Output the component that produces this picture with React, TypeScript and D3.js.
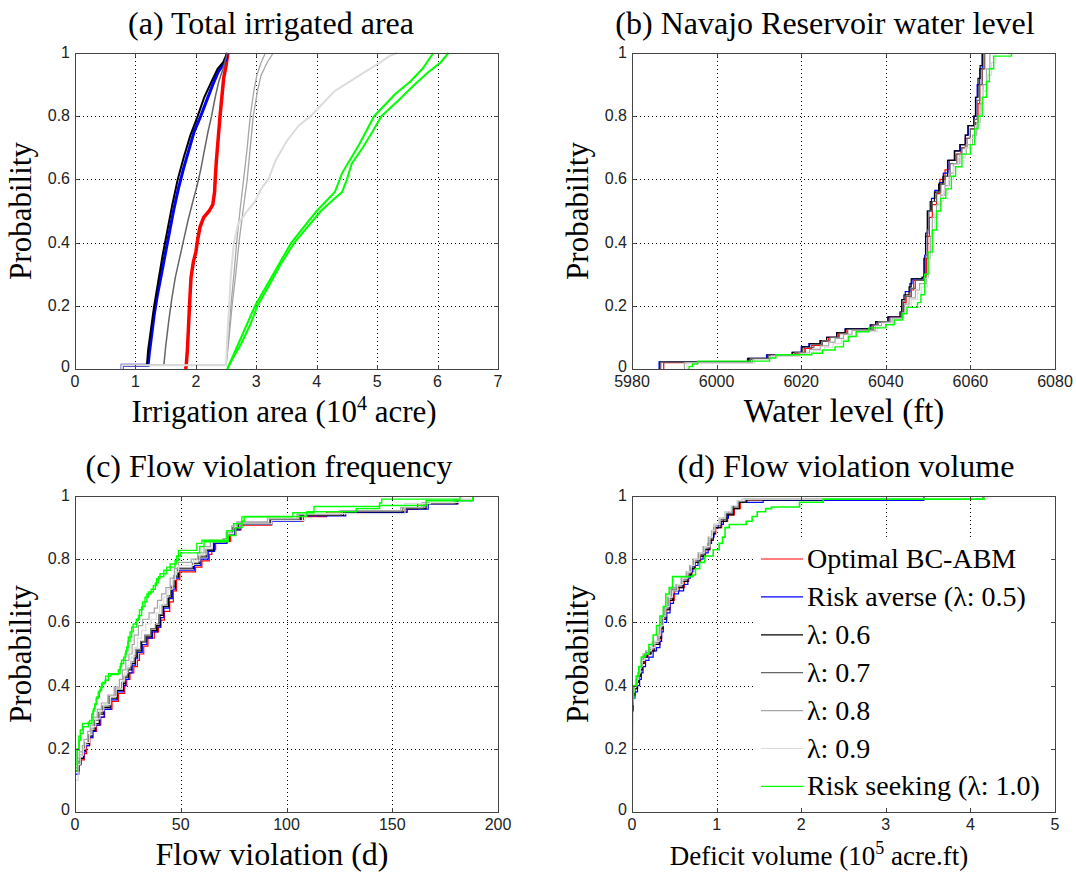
import * as d3 from "d3";
import React, { useEffect, useRef } from "react";

type Pt = [number, number];

const seriesNames = [
  "Optimal BC-ABM",
  "Risk averse (λ: 0.5)",
  "λ: 0.6",
  "λ: 0.7",
  "λ: 0.8",
  "λ: 0.9",
  "Risk seeking (λ: 1.0)",
];
const seriesColors = ["#ff0000", "#0000ff", "#000000", "#666666", "#a6a6a6", "#dcdcdc", "#00ff00"];

const probTicks = [0, 0.2, 0.4, 0.6, 0.8, 1];
const aTicks = [0, 1, 2, 3, 4, 5, 6, 7];
const bTicks = [5980, 6000, 6020, 6040, 6060, 6080];
const cTicks = [0, 50, 100, 150, 200];
const dTicks = [0, 1, 2, 3, 4, 5];

// (a) total irrigated area, 10^4 acre
const aOptimal: Pt[] = [[1.83,0],[1.84,0.01],[1.86,0.06],[1.88,0.14],[1.9,0.22],[1.92,0.29],[1.96,0.34],[2.0,0.37],[2.03,0.41],[2.07,0.45],[2.13,0.48],[2.22,0.5],[2.28,0.52],[2.31,0.56],[2.32,0.6],[2.34,0.66],[2.37,0.73],[2.4,0.8],[2.43,0.86],[2.46,0.92],[2.5,0.96],[2.53,1.0]];
const aAverse: Pt[] = [[0.78,0],[0.78,0.012],[1.21,0.012],[1.23,0.05],[1.27,0.11],[1.31,0.17],[1.36,0.23],[1.42,0.29],[1.49,0.36],[1.56,0.43],[1.63,0.5],[1.71,0.57],[1.79,0.63],[1.88,0.69],[1.97,0.75],[2.08,0.8],[2.18,0.85],[2.28,0.9],[2.37,0.94],[2.44,0.96],[2.5,0.98],[2.52,1.0]];
const a06: Pt[] = [[0.78,0],[0.78,0.012],[1.19,0.012],[1.21,0.06],[1.26,0.13],[1.31,0.2],[1.38,0.28],[1.45,0.36],[1.53,0.44],[1.61,0.52],[1.7,0.6],[1.8,0.67],[1.91,0.74],[2.03,0.8],[2.14,0.86],[2.26,0.91],[2.36,0.95],[2.45,0.97],[2.52,1.0]];
const a07: Pt[] = [[0.78,0],[0.78,0.012],[1.47,0.012],[1.5,0.07],[1.55,0.15],[1.6,0.22],[1.66,0.29],[1.73,0.35],[1.8,0.41],[1.87,0.47],[1.95,0.53],[2.02,0.58],[2.08,0.63],[2.14,0.69],[2.2,0.75],[2.26,0.8],[2.32,0.86],[2.38,0.91],[2.45,0.95],[2.52,1.0]];
const a08: Pt[] = [[0.78,0],[0.78,0.012],[2.5,0.012],[2.52,0.05],[2.55,0.12],[2.58,0.2],[2.63,0.3],[2.68,0.41],[2.73,0.5],[2.79,0.6],[2.85,0.7],[2.9,0.8],[2.96,0.88],[3.01,0.93],[3.08,0.97],[3.15,1.0]];
const a08b: Pt[] = [[2.5,0.012],[2.54,0.08],[2.6,0.2],[2.66,0.3],[2.72,0.41],[2.78,0.5],[2.85,0.6],[2.9,0.7],[2.95,0.8],[3.02,0.88],[3.08,0.93],[3.18,0.97],[3.28,1.0]];
const a09: Pt[] = [[0.78,0],[0.78,0.012],[2.5,0.012],[2.52,0.1],[2.55,0.2],[2.58,0.3],[2.63,0.4],[2.7,0.46],[2.85,0.5],[2.98,0.53],[3.08,0.57],[3.2,0.6],[3.32,0.66],[3.5,0.72],[3.7,0.77],[3.9,0.8],[4.1,0.84],[4.3,0.88],[4.55,0.91],[4.8,0.94],[5.05,0.97],[5.2,0.99],[5.33,1.0]];
const aSeeking: Pt[] = [[2.52,0],[2.6,0.03],[2.75,0.08],[2.9,0.14],[3.02,0.2],[3.2,0.26],[3.4,0.33],[3.63,0.4],[3.85,0.45],[4.07,0.5],[4.3,0.54],[4.42,0.56],[4.5,0.6],[4.58,0.65],[4.76,0.7],[4.92,0.75],[5.07,0.8],[5.35,0.85],[5.62,0.9],[5.85,0.94],[6.05,0.97],[6.18,1.0]];
const aSeeking2: Pt[] = [[2.52,0],[2.98,0.2],[3.58,0.4],[4.0,0.5],[4.3,0.56],[4.42,0.62],[4.7,0.71],[4.95,0.8],[5.3,0.87],[5.55,0.91],[5.75,0.95],[5.93,1.0]];

// (b) Navajo Reservoir water level, ft
const bOptimal: Pt[] = [[5987.5,0],[5987.5,0.02],[6007.8,0.03],[6012.3,0.043],[6018.5,0.05],[6020.7,0.065],[6022.5,0.075],[6025,0.088],[6026.5,0.1],[6028.8,0.112],[6030.8,0.125],[6037,0.14],[6038,0.15],[6040.8,0.165],[6043.6,0.18],[6044.2,0.21],[6044.8,0.23],[6046,0.25],[6046.6,0.28],[6049,0.29],[6049.6,0.35],[6049.9,0.42],[6050.3,0.48],[6051,0.52],[6052,0.555],[6052.8,0.6],[6054,0.63],[6055,0.66],[6056.6,0.68],[6057.8,0.7],[6058.8,0.73],[6060,0.76],[6061.2,0.78],[6061.8,0.84],[6062.2,0.9],[6062.8,0.95],[6063.2,1.0]];
const bAverse: Pt[] = [[5986.4,0],[5986.4,0.023],[6007.3,0.034],[6011.8,0.045],[6017.8,0.053],[6020,0.07],[6021.8,0.08],[6024.4,0.09],[6026,0.1],[6028.4,0.115],[6030.4,0.127],[6036.3,0.14],[6037.6,0.15],[6040.5,0.164],[6043.4,0.18],[6043.8,0.22],[6044.6,0.245],[6045.7,0.27],[6046.2,0.285],[6048.6,0.29],[6049.2,0.36],[6049.4,0.43],[6049.9,0.5],[6050.8,0.54],[6051.6,0.565],[6052.7,0.59],[6053.6,0.62],[6054.7,0.66],[6056.3,0.69],[6057.6,0.71],[6058.8,0.74],[6059.5,0.77],[6060.9,0.8],[6061.3,0.86],[6061.6,0.9],[6062.2,0.95],[6062.8,1.0]];
const b06: Pt[] = [[5986.6,0],[5986.6,0.023],[6007.5,0.034],[6012,0.045],[6018,0.053],[6020.2,0.07],[6022,0.08],[6024.6,0.09],[6026,0.1],[6028.4,0.115],[6030.4,0.127],[6036.5,0.14],[6037.6,0.15],[6040.5,0.164],[6043.4,0.18],[6043.8,0.22],[6044.3,0.235],[6045.5,0.26],[6046,0.285],[6048.6,0.29],[6049,0.35],[6049.4,0.42],[6049.8,0.5],[6050.5,0.53],[6051.5,0.56],[6052.5,0.585],[6053.5,0.61],[6054.6,0.66],[6056.2,0.69],[6057.5,0.71],[6058.8,0.74],[6059.4,0.77],[6060.8,0.8],[6061.2,0.86],[6061.8,0.92],[6062.3,0.96],[6062.8,1.0]];
const b07: Pt[] = [[5986.8,0],[5986.8,0.022],[6008,0.033],[6012.2,0.044],[6018.5,0.052],[6021,0.068],[6023,0.078],[6025,0.09],[6026.8,0.1],[6029,0.113],[6031,0.125],[6037,0.14],[6038.2,0.15],[6041,0.163],[6043.6,0.18],[6044,0.215],[6044.6,0.23],[6046,0.255],[6047,0.28],[6049,0.29],[6049.4,0.36],[6049.8,0.44],[6050.2,0.5],[6051,0.53],[6052,0.56],[6053,0.585],[6054,0.61],[6055.2,0.65],[6056.8,0.68],[6058,0.7],[6059.2,0.73],[6060,0.76],[6061,0.79],[6061.6,0.85],[6062.2,0.9],[6062.8,0.95],[6063.4,1.0]];
const b08: Pt[] = [[5992.4,0],[5992.4,0.02],[6008.5,0.03],[6012.8,0.042],[6019.5,0.05],[6022,0.062],[6024.5,0.073],[6026.5,0.085],[6028,0.097],[6030,0.11],[6032,0.122],[6037.5,0.137],[6039,0.148],[6041.5,0.16],[6044,0.178],[6044.5,0.205],[6045.5,0.225],[6047,0.25],[6048,0.27],[6049.6,0.29],[6050,0.35],[6050.5,0.42],[6051,0.48],[6052,0.52],[6053,0.55],[6054,0.58],[6055,0.62],[6056,0.65],[6057.5,0.68],[6059,0.71],[6060.5,0.74],[6061.5,0.78],[6062.3,0.84],[6063,0.9],[6063.8,0.95],[6064.6,1.0]];
const b09: Pt[] = [[5993,0],[5993,0.018],[6009,0.03],[6013,0.04],[6020,0.048],[6023,0.058],[6025.5,0.068],[6027.5,0.08],[6029.5,0.092],[6031,0.105],[6033,0.118],[6038,0.133],[6040,0.145],[6042,0.158],[6044,0.176],[6045,0.2],[6046,0.22],[6047.5,0.24],[6048.5,0.26],[6049.8,0.3],[6050.4,0.36],[6051,0.43],[6051.6,0.49],[6052.6,0.53],[6053.6,0.565],[6054.8,0.6],[6056,0.64],[6057.2,0.67],[6058.8,0.7],[6060,0.73],[6061.2,0.77],[6062.2,0.82],[6063,0.88],[6064,0.93],[6065,0.97],[6066,1.0]];
const bSeeking: Pt[] = [[5993.5,0],[5993.5,0.008],[5994.3,0.016],[5995.5,0.025],[6012.5,0.035],[6014,0.045],[6022.5,0.05],[6025,0.06],[6028,0.07],[6030,0.088],[6031.2,0.103],[6033,0.118],[6036,0.13],[6040,0.14],[6042,0.155],[6044,0.175],[6045,0.195],[6047.5,0.21],[6048.3,0.235],[6049.2,0.3],[6050,0.37],[6051,0.44],[6052,0.5],[6053,0.54],[6054.2,0.57],[6055.5,0.61],[6056.5,0.64],[6058,0.68],[6060,0.71],[6061,0.76],[6061.8,0.8],[6062.8,0.86],[6063.8,0.91],[6064.5,0.95],[6065.5,0.99],[6069.7,1.0]];

// (c) flow violation frequency, days
const cOptimal: Pt[] = [[0,0],[0,0.13],[2,0.15],[3,0.165],[4.4,0.185],[5.5,0.21],[7,0.235],[8.6,0.255],[10.2,0.275],[12.2,0.3],[14,0.325],[17.5,0.35],[20.5,0.375],[23.5,0.4],[24.5,0.42],[26,0.44],[27.8,0.46],[29.5,0.48],[30.5,0.5],[32.5,0.525],[34.5,0.55],[37.5,0.57],[39.5,0.585],[40.6,0.607],[42.3,0.635],[44.8,0.665],[46.5,0.7],[48,0.735],[49.6,0.76],[57,0.775],[60,0.795],[63.5,0.815],[64.7,0.83],[66.5,0.85],[72,0.856],[73.6,0.875],[76,0.893],[78.5,0.908],[93,0.92],[108,0.935],[119,0.95],[157,0.958],[162,0.976],[181,0.986],[188,1.0]];
const cAverse: Pt[] = [[0,0],[0,0.12],[1.8,0.15],[2.6,0.17],[4.2,0.19],[5,0.21],[6.8,0.235],[8.2,0.255],[9.8,0.275],[11.8,0.3],[13.8,0.325],[17,0.355],[20,0.38],[23,0.4],[24,0.42],[25.5,0.44],[27,0.465],[28.6,0.485],[29.6,0.505],[31.8,0.53],[34,0.55],[36.6,0.57],[39,0.585],[40.5,0.615],[42,0.645],[44.5,0.675],[46,0.705],[47.5,0.74],[49.2,0.765],[56.5,0.78],[59.5,0.8],[63,0.825],[66,0.85],[71.5,0.858],[73,0.875],[75.5,0.893],[78,0.91],[93,0.92],[107,0.937],[128,0.948],[157,0.958],[167,0.975],[181,0.985],[188,1.0]];
const c06: Pt[] = [[0,0],[0,0.13],[1.6,0.15],[2.4,0.17],[4,0.195],[4.7,0.216],[6.5,0.24],[7.9,0.258],[9.5,0.28],[11.5,0.31],[13.4,0.33],[16.6,0.36],[19.7,0.385],[22.9,0.406],[23.7,0.427],[25.2,0.45],[26.8,0.47],[28.4,0.49],[29.2,0.51],[31.5,0.538],[33.6,0.554],[36.3,0.575],[38.6,0.59],[40.2,0.622],[41.8,0.65],[44.2,0.68],[45.7,0.712],[47.3,0.744],[48.9,0.77],[56,0.786],[59,0.807],[62.3,0.828],[65.5,0.854],[71,0.86],[72.6,0.88],[75,0.897],[77.3,0.912],[92.3,0.923],[106.5,0.939],[127,0.95],[156,0.96],[166,0.976],[180.6,0.986],[188,1.0]];
const c07: Pt[] = [[0,0],[0,0.14],[1.4,0.16],[2.2,0.18],[3.8,0.2],[4.5,0.22],[6.2,0.245],[7.6,0.265],[9.2,0.29],[11,0.315],[13,0.335],[16,0.365],[19,0.39],[22,0.41],[23.2,0.43],[24.8,0.455],[26.4,0.475],[28,0.495],[28.8,0.515],[31,0.54],[33,0.56],[35.8,0.58],[38,0.595],[39.6,0.625],[41.2,0.655],[43.6,0.685],[45.2,0.715],[46.8,0.748],[48.4,0.772],[55.5,0.788],[58.5,0.81],[61.8,0.83],[65,0.855],[70.5,0.862],[72,0.882],[74.5,0.9],[77,0.914],[92,0.925],[106,0.94],[126,0.952],[155,0.962],[165,0.977],[180,0.987],[188,1.0]];
const c08: Pt[] = [[0,0],[0,0.14],[1.2,0.17],[2,0.19],[3.5,0.21],[4.3,0.23],[6,0.255],[7.2,0.275],[8.8,0.3],[10.5,0.325],[12.5,0.345],[15.5,0.37],[18.5,0.395],[21,0.42],[22.5,0.45],[24,0.48],[25.5,0.5],[27,0.53],[28,0.56],[30,0.59],[32,0.61],[35,0.63],[37.5,0.645],[39,0.67],[41,0.69],[43,0.71],[45,0.74],[47,0.77],[49,0.79],[55,0.8],[58,0.82],[61,0.84],[64,0.86],[70,0.865],[71.5,0.885],[74,0.905],[76.5,0.918],[91,0.928],[105,0.942],[125,0.953],[154,0.963],[164,0.978],[179,0.988],[188,1.0]];
const c09: Pt[] = [[0,0],[0,0.1],[1.5,0.15],[2.5,0.18],[4,0.2],[5,0.22],[6.8,0.245],[8,0.27],[9.8,0.295],[11.8,0.32],[13.6,0.34],[16.8,0.365],[19.5,0.39],[22.4,0.415],[23.5,0.44],[25,0.465],[26.5,0.49],[28,0.52],[29.5,0.55],[31.5,0.575],[33.5,0.595],[36,0.61],[38.5,0.63],[40,0.655],[42,0.68],[44,0.705],[46,0.735],[47.5,0.76],[49,0.78],[56,0.795],[59,0.815],[62,0.835],[65,0.855],[71,0.862],[72.5,0.882],[75,0.9],[78,0.912],[93,0.922],[108.8,0.944],[156,0.976],[168,0.98],[182,0.99],[188,1.0]];
const cSeeking: Pt[] = [[0,0],[0,0.13],[1.1,0.195],[2,0.227],[2.7,0.248],[3.9,0.27],[6.3,0.285],[7,0.29],[7.9,0.31],[8.7,0.327],[9.5,0.343],[10.3,0.364],[11.5,0.385],[12.6,0.406],[14.2,0.417],[15.8,0.438],[21.3,0.46],[22,0.48],[23.7,0.5],[24.4,0.522],[25.2,0.554],[26.8,0.585],[29.2,0.606],[30,0.622],[31.5,0.65],[33.1,0.68],[34.7,0.696],[37,0.717],[38.6,0.738],[40.2,0.754],[43.4,0.775],[47.3,0.796],[48.9,0.828],[57.6,0.85],[60,0.86],[71.8,0.89],[75,0.912],[78.9,0.934],[103,0.947],[113,0.967],[144,0.978],[145,0.99],[182,1.0]];
const cSeeking2: Pt[] = [[0,0],[0,0.15],[1,0.2],[1.8,0.24],[2.5,0.26],[3.5,0.28],[8,0.3],[8.5,0.32],[9.3,0.34],[10,0.36],[11,0.38],[12,0.395],[13,0.41],[14.5,0.43],[17,0.435],[20.5,0.45],[21.5,0.47],[23,0.49],[24,0.51],[25,0.54],[26,0.57],[27.5,0.595],[29,0.61],[30.5,0.64],[32,0.665],[34,0.69],[36,0.705],[38,0.725],[39.5,0.745],[42,0.765],[45,0.785],[48,0.81],[50,0.82],[59,0.84],[61,0.855],[72.5,0.875],[76,0.9],[79,0.92],[80,0.935],[109.6,0.95],[133,0.96],[144,0.97],[166,0.985],[188,1.0]];

// (d) flow violation volume, 10^5 acre.ft
const dOptimal: Pt[] = [[0,0],[0,0.26],[0.005,0.33],[0.012,0.37],[0.035,0.39],[0.065,0.41],[0.085,0.43],[0.105,0.45],[0.125,0.47],[0.15,0.49],[0.19,0.5],[0.23,0.51],[0.27,0.53],[0.33,0.55],[0.35,0.58],[0.37,0.61],[0.41,0.64],[0.45,0.67],[0.5,0.7],[0.56,0.71],[0.62,0.73],[0.67,0.75],[0.71,0.77],[0.75,0.79],[0.81,0.81],[0.87,0.83],[0.92,0.86],[0.96,0.88],[0.99,0.9],[1.06,0.92],[1.13,0.94],[1.21,0.96],[1.28,0.98],[1.36,0.988],[2.26,0.99],[4.15,1.0]];
const dAverse: Pt[] = [[0,0],[0,0.25],[0.005,0.32],[0.015,0.36],[0.035,0.38],[0.065,0.4],[0.09,0.42],[0.11,0.44],[0.13,0.46],[0.16,0.48],[0.2,0.49],[0.25,0.51],[0.29,0.52],[0.33,0.54],[0.35,0.57],[0.37,0.6],[0.41,0.63],[0.45,0.66],[0.49,0.69],[0.55,0.7],[0.61,0.72],[0.66,0.74],[0.69,0.76],[0.72,0.78],[0.78,0.8],[0.84,0.82],[0.9,0.85],[0.94,0.87],[0.97,0.9],[1.02,0.91],[1.08,0.93],[1.14,0.95],[1.2,0.97],[1.26,0.98],[1.55,0.986],[3.45,1.0]];
const d06: Pt[] = [[0,0],[0,0.27],[0.005,0.33],[0.01,0.37],[0.03,0.39],[0.06,0.41],[0.08,0.43],[0.1,0.45],[0.12,0.47],[0.14,0.49],[0.18,0.5],[0.22,0.51],[0.26,0.53],[0.32,0.55],[0.34,0.58],[0.36,0.61],[0.4,0.64],[0.44,0.67],[0.48,0.7],[0.54,0.71],[0.6,0.73],[0.66,0.75],[0.7,0.77],[0.74,0.79],[0.8,0.81],[0.86,0.83],[0.92,0.86],[0.96,0.88],[0.98,0.9],[1.05,0.92],[1.12,0.94],[1.2,0.96],[1.27,0.98],[1.35,0.988],[2.26,0.99],[4.15,1.0]];
const d07: Pt[] = [[0,0],[0,0.28],[0.005,0.34],[0.01,0.38],[0.028,0.4],[0.055,0.42],[0.075,0.44],[0.095,0.46],[0.115,0.48],[0.14,0.495],[0.17,0.505],[0.21,0.515],[0.25,0.535],[0.31,0.555],[0.33,0.585],[0.355,0.615],[0.39,0.645],[0.43,0.675],[0.47,0.705],[0.53,0.715],[0.59,0.735],[0.65,0.755],[0.69,0.775],[0.73,0.795],[0.79,0.815],[0.85,0.835],[0.91,0.865],[0.95,0.885],[0.98,0.905],[1.04,0.925],[1.11,0.945],[1.19,0.965],[1.26,0.982],[1.34,0.99],[4.15,1.0]];
const d08: Pt[] = [[0,0],[0,0.28],[0.005,0.35],[0.01,0.38],[0.025,0.4],[0.05,0.42],[0.07,0.44],[0.09,0.46],[0.11,0.48],[0.13,0.5],[0.16,0.51],[0.2,0.52],[0.24,0.54],[0.3,0.56],[0.32,0.59],[0.35,0.62],[0.38,0.65],[0.42,0.68],[0.46,0.71],[0.52,0.72],[0.58,0.74],[0.64,0.76],[0.68,0.78],[0.72,0.8],[0.78,0.82],[0.84,0.84],[0.9,0.87],[0.94,0.89],[0.97,0.91],[1.03,0.93],[1.1,0.95],[1.18,0.97],[1.25,0.985],[1.3,0.99],[4.15,1.0]];
const d09: Pt[] = [[0,0],[0,0.27],[0.005,0.34],[0.012,0.38],[0.03,0.4],[0.06,0.42],[0.08,0.44],[0.1,0.46],[0.12,0.48],[0.15,0.5],[0.19,0.51],[0.23,0.52],[0.27,0.54],[0.32,0.56],[0.34,0.59],[0.37,0.62],[0.4,0.65],[0.44,0.68],[0.48,0.7],[0.54,0.72],[0.6,0.74],[0.66,0.76],[0.7,0.78],[0.74,0.8],[0.8,0.82],[0.86,0.84],[0.92,0.87],[0.95,0.89],[0.98,0.91],[1.04,0.93],[1.1,0.95],[1.17,0.97],[1.24,0.985],[1.3,0.99],[2.26,0.992],[4.2,1.0]];
const dSeeking: Pt[] = [[0,0],[0,0.23],[0.005,0.36],[0.02,0.4],[0.05,0.43],[0.08,0.46],[0.11,0.49],[0.15,0.5],[0.2,0.53],[0.25,0.56],[0.29,0.59],[0.33,0.62],[0.37,0.65],[0.4,0.69],[0.44,0.71],[0.48,0.745],[0.72,0.75],[0.75,0.77],[0.8,0.79],[0.86,0.81],[0.96,0.83],[1.03,0.85],[1.07,0.87],[1.1,0.9],[1.15,0.91],[1.35,0.92],[1.42,0.935],[1.48,0.95],[1.58,0.96],[1.65,0.965],[1.98,0.98],[2.26,0.99],[4.16,1.0]];

// layout
const W = 423;
const H = 316;
const COLS = [75, 632];
const ROWS = [53, 496];

type Panel = {
  key: string;
  left: number;
  top: number;
  title: string;
  titleX: number;
  label: [string, string?, string?];
  labelX: number;
  labelSize: number;
  ticks: number[];
  series: Pt[][];
  extra?: [number, Pt[]][];
  widths: number[];
  step: boolean;
  legend?: boolean;
};

const panels: Panel[] = [
  {
    key: "a", left: COLS[0], top: ROWS[0],
    title: "(a) Total irrigated area", titleX: 271,
    label: ["Irrigation area (10", "4", " acre)"], labelX: 284, labelSize: 31,
    ticks: aTicks,
    series: [aOptimal, aAverse, a06, a07, a08, a09, aSeeking],
    extra: [[4, a08b], [6, aSeeking2]],
    widths: [3.5, 3, 2, 1.5, 1.3, 2, 2],
    step: false,
  },
  {
    key: "b", left: COLS[1], top: ROWS[0],
    title: "(b) Navajo Reservoir water level", titleX: 825,
    label: ["Water level (ft)"], labelX: 844, labelSize: 33,
    ticks: bTicks,
    series: [bOptimal, bAverse, b06, b07, b08, b09, bSeeking],
    widths: [1.2, 1.2, 1.2, 1.2, 1.2, 1.2, 1.4],
    step: true,
  },
  {
    key: "c", left: COLS[0], top: ROWS[1],
    title: "(c) Flow violation frequency", titleX: 269,
    label: ["Flow violation (d)"], labelX: 272, labelSize: 32,
    ticks: cTicks,
    series: [cOptimal, cAverse, c06, c07, c08, c09, cSeeking],
    extra: [[6, cSeeking2]],
    widths: [1.2, 1.2, 1.2, 1.2, 1.2, 1.2, 1.4],
    step: true,
  },
  {
    key: "d", left: COLS[1], top: ROWS[1],
    title: "(d) Flow violation volume", titleX: 846,
    label: ["Deficit volume (10", "5", " acre.ft)"], labelX: 819, labelSize: 27,
    ticks: dTicks,
    series: [dOptimal, dAverse, d06, d07, d08, d09, dSeeking],
    widths: [1.2, 1.2, 1.2, 1.2, 1.2, 1.2, 1.6],
    step: true,
    legend: true,
  },
];

const SERIF = "'Liberation Serif', 'Times New Roman', serif";
const SANS = "'Liberation Sans', Arial, sans-serif";

const drawPanel = (root: d3.Selection<SVGSVGElement, unknown, null, undefined>, p: Panel) => {
  const x = d3.scaleLinear().domain([p.ticks[0], p.ticks[p.ticks.length - 1]]).range([p.left, p.left + W]);
  const y = d3.scaleLinear().domain([0, 1]).range([p.top + H, p.top]);
  const g = root.append("g");
  const px = (v: number) => Math.round(x(v)) + 0.5;
  const py = (v: number) => Math.round(y(v)) + 0.5;

  // grid
  g.selectAll("line.gx")
    .data(p.ticks.slice(1, -1))
    .join("line")
    .attr("x1", (d) => px(d)).attr("x2", (d) => px(d))
    .attr("y1", p.top).attr("y2", p.top + H)
    .attr("stroke", "#000").attr("stroke-dasharray", "1,3");
  g.selectAll("line.gy")
    .data(probTicks.slice(1, -1))
    .join("line")
    .attr("y1", (d) => py(d)).attr("y2", (d) => py(d))
    .attr("x1", p.left).attr("x2", p.left + W)
    .attr("stroke", "#000").attr("stroke-dasharray", "1,3");

  // curves
  const clipId = `clip-${p.key}`;
  g.append("clipPath").attr("id", clipId)
    .append("rect").attr("x", p.left).attr("y", p.top - 3).attr("width", W).attr("height", H + 3);
  const line = d3.line<Pt>()
    .x((d) => x(d[0]))
    .y((d) => y(d[1]))
    .curve(p.step ? d3.curveStepAfter : d3.curveLinear);
  const curves = g.append("g").attr("clip-path", `url(#${clipId})`);
  p.series.forEach((pts, i) => {
    (p.extra || []).filter((e) => e[0] === i).forEach((e) => {
      curves.append("path").attr("d", line(e[1])!).attr("fill", "none")
        .attr("stroke", seriesColors[i]).attr("stroke-width", p.widths[i]);
    });
    curves.append("path").attr("d", line(pts)!).attr("fill", "none")
      .attr("stroke", seriesColors[i]).attr("stroke-width", p.widths[i]);
  });

  // legend
  if (p.legend) {
    const lx = p.left + 123;
    const ly = p.top + 42;
    g.append("rect").attr("x", lx).attr("y", ly).attr("width", W - 124).attr("height", H - 46).attr("fill", "#fff");
    seriesNames.forEach((name, i) => {
      const cy = ly + 21 + i * 37.9;
      g.append("line").attr("x1", lx + 6).attr("x2", lx + 48).attr("y1", cy).attr("y2", cy)
        .attr("stroke", seriesColors[i]).attr("stroke-width", 1.2);
      g.append("text").attr("x", lx + 52).attr("y", cy + 9).text(name)
        .style("font-family", SERIF).style("font-size", "28px").attr("fill", "#000");
    });
  }

  // axes box and inward ticks
  g.append("rect").attr("x", p.left + 0.5).attr("y", p.top + 0.5).attr("width", W).attr("height", H)
    .attr("fill", "none").attr("stroke", "#444");
  const tl = 4;
  p.ticks.forEach((t) => {
    g.append("line").attr("x1", px(t)).attr("x2", px(t)).attr("y1", p.top + H).attr("y2", p.top + H - tl).attr("stroke", "#444");
    g.append("line").attr("x1", px(t)).attr("x2", px(t)).attr("y1", p.top).attr("y2", p.top + tl).attr("stroke", "#444");
  });
  probTicks.forEach((t) => {
    g.append("line").attr("y1", py(t)).attr("y2", py(t)).attr("x1", p.left).attr("x2", p.left + tl).attr("stroke", "#444");
    g.append("line").attr("y1", py(t)).attr("y2", py(t)).attr("x1", p.left + W).attr("x2", p.left + W - tl).attr("stroke", "#444");
  });

  // tick labels
  g.selectAll("text.xt").data(p.ticks).join("text")
    .attr("x", (d) => x(d)).attr("y", p.top + H + 18)
    .attr("text-anchor", "middle").text((d) => String(d))
    .style("font-family", SANS).style("font-size", "16px").attr("fill", "#222");
  g.selectAll("text.yt").data(probTicks).join("text")
    .attr("x", p.left - 5).attr("y", (d) => y(d) + (d === 0 ? 3 : 5))
    .attr("text-anchor", "end").text((d) => String(d))
    .style("font-family", SANS).style("font-size", "16px").attr("fill", "#222");

  // title and axis labels
  g.append("text").attr("x", p.titleX).attr("y", p.top - 19).attr("text-anchor", "middle")
    .text(p.title).style("font-family", SERIF).style("font-size", "32px").attr("fill", "#000");
  g.append("text")
    .attr("transform", `translate(${p.left - 44},${p.top + H / 2}) rotate(-90)`)
    .attr("text-anchor", "middle").text("Probability")
    .style("font-family", SERIF).style("font-size", "31px").attr("fill", "#000");
  const xl = g.append("text").attr("x", p.labelX).attr("y", p.top + H + 53).attr("text-anchor", "middle")
    .style("font-family", SERIF).style("font-size", `${p.labelSize}px`).attr("fill", "#000");
  xl.append("tspan").text(p.label[0]);
  if (p.label[1]) {
    const rise = Math.round(p.labelSize * 0.4);
    xl.append("tspan").attr("dy", -rise).style("font-size", `${Math.round(p.labelSize * 0.65)}px`).text(p.label[1]);
    xl.append("tspan").attr("dy", rise).text(p.label[2] || "");
  }
};

export default function App() {
  const svgRef = useRef<SVGSVGElement | null>(null);

  useEffect(() => {
    if (!svgRef.current) return;
    const svg = d3.select(svgRef.current);
    svg.selectAll("*").remove();
    panels.forEach((p) => drawPanel(svg, p));
  }, []);

  return (
    <div style={{ position: "absolute", left: 0, top: 0 }}>
      <svg ref={svgRef} width={1076} height={875} style={{ display: "block", background: "#fff" }} />
    </div>
  );
}
